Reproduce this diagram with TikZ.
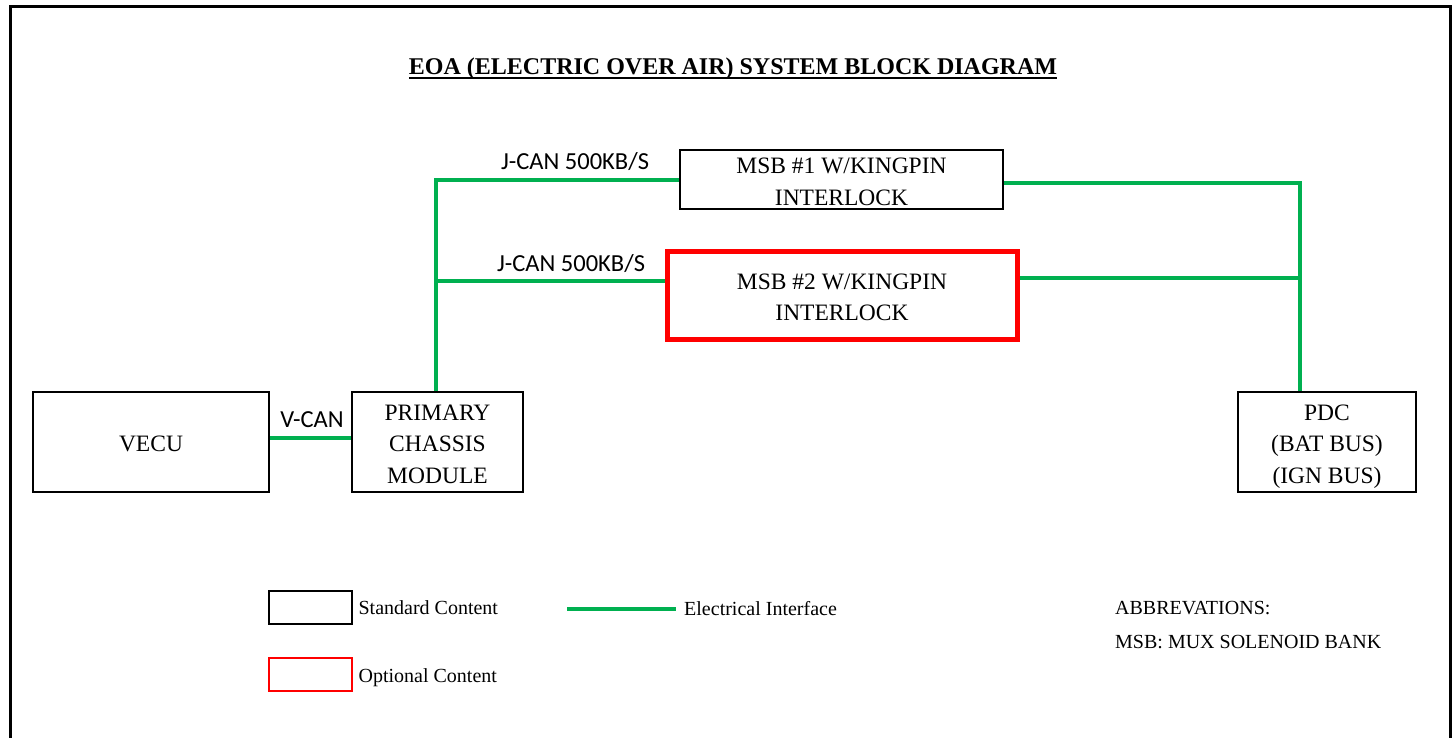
\documentclass[tikz,border=0pt]{standalone}
\usepackage{fontspec}
\setmainfont{Liberation Serif}
\newfontfamily\lblfont{Carlito}
\usetikzlibrary{positioning}
\definecolor{elec}{HTML}{00B050}
\definecolor{optred}{HTML}{FF0000}
\definecolor{ink}{HTML}{000000}
\newcommand\heavyul[1]{\setbox0\hbox{#1}\rlap{\raisebox{-4.5pt}{\rule{\wd0}{2.4pt}}}\box0}
\tikzset{
  every picture/.style={line join=miter},
  box/.style={draw=ink, fill=white, align=center, text=ink, line width=2.8pt,
    inner sep=0pt, font=\fontsize{23.5}{31.5}\selectfont,
    text depth=0pt, text height=#1},
  box/.default=19.5pt,
  optbox/.style={box=#1, draw=optred, line width=5pt},
  optbox/.default=51pt,
  keybox/.style={draw=ink, line width=2.8pt, minimum width=83, minimum height=33, inner sep=0pt},
  optkey/.style={keybox, draw=optred},
  elecline/.style={draw=elec, line width=4pt},
  lbl/.style={font=\lblfont\fontsize{24.5}{28}\selectfont, text=ink, inner sep=0pt},
  keytxt/.style={font=\fontsize{20}{24}\selectfont, text=ink, anchor=west, inner sep=0pt},
  frame/.style={draw=ink, line width=3pt},
}

\begin{document}
\begin{tikzpicture}[x=1pt, y=-1pt]
  \useasboundingbox (0,0) rectangle (1453,738);
  \draw[frame] (10,738) -- (10,7) -- (1450,7) -- (1450,738);

  % ---------- title ----------
  \node[font=\fontsize{24}{28}\selectfont\bfseries, text=ink] (title) at (733,69)
    {\heavyul{EOA (ELECTRIC OVER AIR) SYSTEM BLOCK DIAGRAM}};

  % ---------- blocks ----------
  \node[box=51pt, minimum width=323, minimum height=59] (msb1) at (841.5,179.5) {MSB \#1 W/KINGPIN\\INTERLOCK};
  \node[optbox, minimum width=350, minimum height=88] (msb2) at (842,295) {MSB \#2 W/KINGPIN\\INTERLOCK};
  \node[box, minimum width=236, minimum height=100] (vecu) at (151,442) {VECU};
  \node[box=82.5pt, minimum width=171, minimum height=100] (pcm) at (437.5,442) {PRIMARY\\CHASSIS\\MODULE};
  \node[box=82.5pt, minimum width=178, minimum height=100] (pdc) at (1327,442) {PDC\\(BAT BUS)\\(IGN BUS)};

  % ---------- wiring ----------
  \coordinate (jtop) at (436,180);
  \coordinate (jmid) at (436,281);
  \coordinate (rtop) at (1300,183);
  \coordinate (rmid) at (1300,278);
  \draw[elecline] (pcm.north -| jtop) -- (jtop) -- (jtop -| msb1.west);
  \draw[elecline] (jmid) -- (jmid -| msb2.west);
  \draw[elecline] (msb1.east |- rtop) -- (rtop) -- (rtop |- pdc.north);
  \draw[elecline] (msb2.east |- rmid) -- (rmid);
  \draw[elecline] (vecu.east |- 0,438) -- (pcm.west |- 0,438);

  \node[lbl] (jcan1) at (575,162) {J-CAN 500KB/S};
  \node[lbl] (jcan2) at (571,264) {J-CAN 500KB/S};
  \node[lbl] (vcan) at (312,420) {V-CAN};

  % ---------- legend ----------
  \node[keybox] (stdkey) at (310.5,607.5) {};
  \node[keytxt, right=5pt of stdkey] (stdtxt) {Standard Content};
  \node[optkey] (optkey) at (310.5,674.5) {};
  \node[keytxt, right=5pt of optkey, yshift=-3pt] (opttxt) {Optional Content};
  \coordinate (elA) at (567,609);
  \coordinate (elB) at (676,609);
  \draw[elecline] (elA) -- (elB);
  \node[keytxt, right=8pt of elB] (eltxt) {Electrical Interface};

  \node[keytxt] (abbr) at (1115,608) {ABBREVATIONS:};
  \node[keytxt] (msbdef) at (1115,642) {MSB: MUX SOLENOID BANK};
\end{tikzpicture}
\end{document}
